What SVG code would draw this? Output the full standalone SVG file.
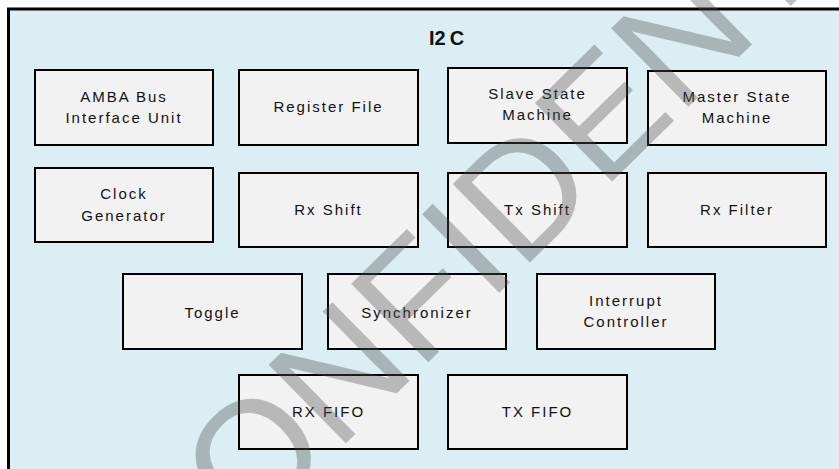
<svg xmlns="http://www.w3.org/2000/svg" width="839" height="469" viewBox="0 0 839 469">
  <style>
    .frame { fill: #daeef3; stroke: #000; stroke-width: 3; }
    .box { fill: #f2f2f2; stroke: #000; stroke-width: 2; }
    .lbl { font-family: "Liberation Sans", Arial, sans-serif; font-size: 15px; letter-spacing: 2px; fill: #111; text-anchor: middle; }
    .title { font-family: "Liberation Sans", Arial, sans-serif; font-size: 20px; font-weight: bold; fill: #111; }
    .wm { font-family: "Liberation Sans", Arial, sans-serif; font-size: 160px; fill: #505050; fill-opacity: 0.36; }
  </style>
  <rect x="0" y="0" width="839" height="469" fill="#ffffff"/>
  <g id="container">
    <rect class="frame" x="8.5" y="9" width="840" height="463"/>
    <text class="title" x="429" y="45">I2<tspan dx="4">C</tspan></text>
  </g>
  <g id="connectors"></g>
  <g id="amba"><rect class="box" x="35" y="70" width="178" height="75"/><text class="lbl" x="124" y="101.7">AMBA Bus</text><text class="lbl" x="124" y="123">Interface Unit</text></g>
  <g id="register-file"><rect class="box" x="239" y="70" width="179" height="75"/><text class="lbl" x="328.5" y="112.3">Register File</text></g>
  <g id="slave-sm"><rect class="box" x="448" y="68" width="179" height="75"/><text class="lbl" x="537.5" y="99.3">Slave State</text><text class="lbl" x="537.5" y="120">Machine</text></g>
  <g id="master-sm"><rect class="box" x="648" y="71" width="178" height="74"/><text class="lbl" x="737" y="101.7">Master State</text><text class="lbl" x="737" y="122.7">Machine</text></g>
  <g id="clock-gen"><rect class="box" x="35" y="168" width="178" height="74"/><text class="lbl" x="124" y="199.3">Clock</text><text class="lbl" x="124" y="220.7">Generator</text></g>
  <g id="rx-shift"><rect class="box" x="239" y="173" width="179" height="74"/><text class="lbl" x="328.5" y="215">Rx Shift</text></g>
  <g id="tx-shift"><rect class="box" x="448" y="173" width="179" height="74"/><text class="lbl" x="537.5" y="215">Tx Shift</text></g>
  <g id="rx-filter"><rect class="box" x="648" y="173" width="178" height="74"/><text class="lbl" x="737" y="215">Rx Filter</text></g>
  <g id="toggle"><rect class="box" x="123" y="274" width="179" height="75"/><text class="lbl" x="212.5" y="317.7">Toggle</text></g>
  <g id="synchronizer"><rect class="box" x="328" y="274" width="178" height="75"/><text class="lbl" x="417" y="317.7">Synchronizer</text></g>
  <g id="interrupt"><rect class="box" x="537" y="274" width="178" height="75"/><text class="lbl" x="626" y="306">Interrupt</text><text class="lbl" x="626" y="327.3">Controller</text></g>
  <g id="rx-fifo"><rect class="box" x="239" y="375" width="179" height="74"/><text class="lbl" x="328.5" y="417.3">RX FIFO</text></g>
  <g id="tx-fifo"><rect class="box" x="448" y="375" width="179" height="74"/><text class="lbl" x="537.5" y="417.3">TX FIFO</text></g>
  <g id="watermark"><text class="wm" transform="translate(165.4,620.6) rotate(-44.5)">CONFIDENTIAL</text></g>
</svg>
